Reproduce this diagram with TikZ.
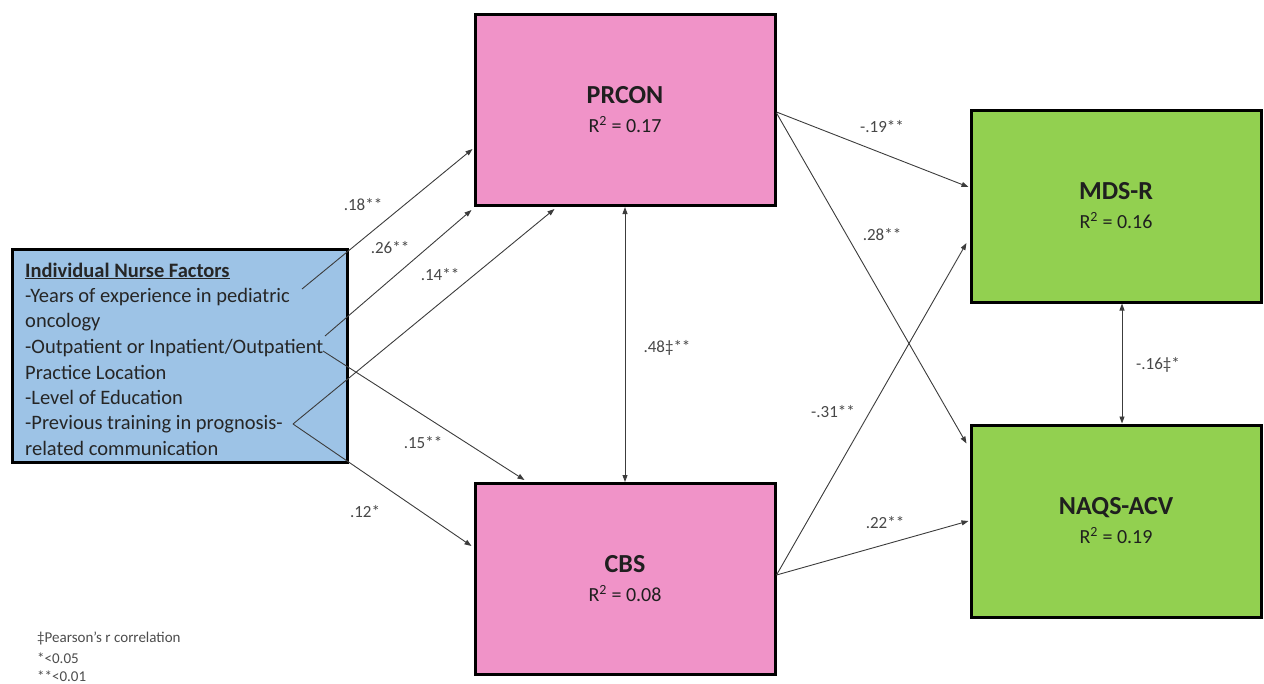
\documentclass[tikz,border=0pt]{standalone}
\usepackage{fontspec}
\setmainfont{Carlito}
\usetikzlibrary{arrows.meta}
\definecolor{pinkfill}{RGB}{240,147,200}
\definecolor{greenfill}{RGB}{146,208,80}
\definecolor{bluefill}{RGB}{157,195,230}
\definecolor{linegray}{RGB}{60,60,60}
\begin{document}
\begin{tikzpicture}[x=1pt,y=-1pt,
  box/.style={draw=black, line width=3pt, align=center, text=black!88, inner sep=0pt, font=\fontsize{20}{29}\selectfont},
  pinkbox/.style={box, fill=pinkfill, minimum width=300pt, minimum height=191pt},
  greenbox/.style={box, fill=greenfill, minimum width=290pt, minimum height=192pt},
  arr/.style={draw=linegray, line width=0.9pt, -{Triangle[length=7pt,width=5pt]}},
  darr/.style={draw=linegray, line width=0.9pt, {Triangle[length=7pt,width=5pt]}-{Triangle[length=7pt,width=5pt]}},
  lbl/.style={font=\fontsize{17}{20}\selectfont, text=black!72, inner sep=0pt},
  nfl/.style={anchor=base west, inner sep=0pt, font=\fontsize{20.5}{24}\selectfont, text=black!85},
  fn/.style={anchor=base west, inner sep=0pt, font=\fontsize{15}{18}\selectfont, text=black!70}
]
\useasboundingbox (0,0) rectangle (1264,683);

% boxes
\node[box, fill=bluefill, minimum width=335pt, minimum height=213pt] (nf) at (179.5,355.5) {};
\node[pinkbox] (prcon) at (625,110) {{\fontsize{26}{29}\selectfont\bfseries PRCON}\\R\textsuperscript{2} = 0.17};
\node[pinkbox] (cbs) at (625,579) {{\fontsize{26}{29}\selectfont\bfseries CBS}\\R\textsuperscript{2} = 0.08};
\node[greenbox] (mds) at (1116,206) {{\fontsize{26}{29}\selectfont\bfseries MDS-R}\\R\textsuperscript{2} = 0.16};
\node[greenbox] (naqs) at (1116,521) {{\fontsize{26}{29}\selectfont\bfseries NAQS-ACV}\\R\textsuperscript{2} = 0.19};

% left box text
\node[nfl] (t1) at (25,277) {\underline{\textbf{Individual Nurse Factors}}};
\node[nfl] (t2) at (25,302) {-Years of experience in pediatric};
\node[nfl] (t3) at (25,327) {oncology};
\node[nfl] (t4) at (25,353) {-Outpatient or Inpatient/Outpatient};
\node[nfl] (t5) at (25,379) {Practice Location};
\node[nfl] (t6) at (25,404) {-Level of Education};
\node[nfl] (t7) at (25,429) {-Previous training in prognosis-};
\node[nfl] (t8) at (25,455) {related communication};

% start points of connectors (ends of text lines)
\coordinate (sY) at (302,289);
\coordinate (sOa) at (325,336);
\coordinate (sOb) at (323,351);
\coordinate (sP) at (293,424);

% connectors from nurse factors
\draw[arr] (sY) -- ([xshift=-1pt,yshift=58pt]prcon.south west);
\draw[arr] (sOa) -- ([xshift=-2pt,yshift=-3pt]prcon.south west);
\draw[arr] (sP) -- ([xshift=81pt,yshift=-2pt]prcon.south west);
\draw[arr] (sOb) -- ([xshift=51pt,yshift=2pt]cbs.north west);
\draw[arr] (sP) -- ([xshift=-2pt,yshift=-64pt]cbs.north west);

% mediator to outcome connectors
\draw[arr] ([yshift=-2pt]prcon.east) -- ([xshift=-1pt,yshift=19pt]mds.west);
\draw[arr] ([yshift=-3pt]prcon.east) -- ([xshift=-3pt,yshift=-20pt]naqs.north west);
\draw[arr] ([yshift=4pt]cbs.east) -- ([xshift=-3pt,yshift=-37pt]mds.west);
\draw[arr] ([yshift=4pt]cbs.east) -- ([xshift=-1pt]naqs.west);

% correlations
\draw[darr] (prcon.south) -- (cbs.north);
\draw[darr] ([xshift=6pt]mds.south) -- ([xshift=6pt]naqs.north);

% labels
\node[lbl] (l18) at (363,205) {.18**};
\node[lbl] (l26) at (390,248) {.26**};
\node[lbl] (l14) at (440,275) {.14**};
\node[lbl] (l15) at (423,443) {.15**};
\node[lbl] (l12) at (365,512) {.12*};
\node[lbl] (l48) at (667,348) {.48‡**};
\node[lbl] (l19) at (882,127) {-.19**};
\node[lbl] (l28) at (882,235) {.28**};
\node[lbl] (l31) at (833,412) {-.31**};
\node[lbl] (l22) at (885,523) {.22**};
\node[lbl] (l16) at (1158,365) {-.16‡*};

% footnote
\node[fn] (f1) at (37,642) {‡Pearson’s r correlation};
\node[fn] (f2) at (37,663) {*<0.05};
\node[fn] (f3) at (37,681) {**<0.01};
\end{tikzpicture}
\end{document}
